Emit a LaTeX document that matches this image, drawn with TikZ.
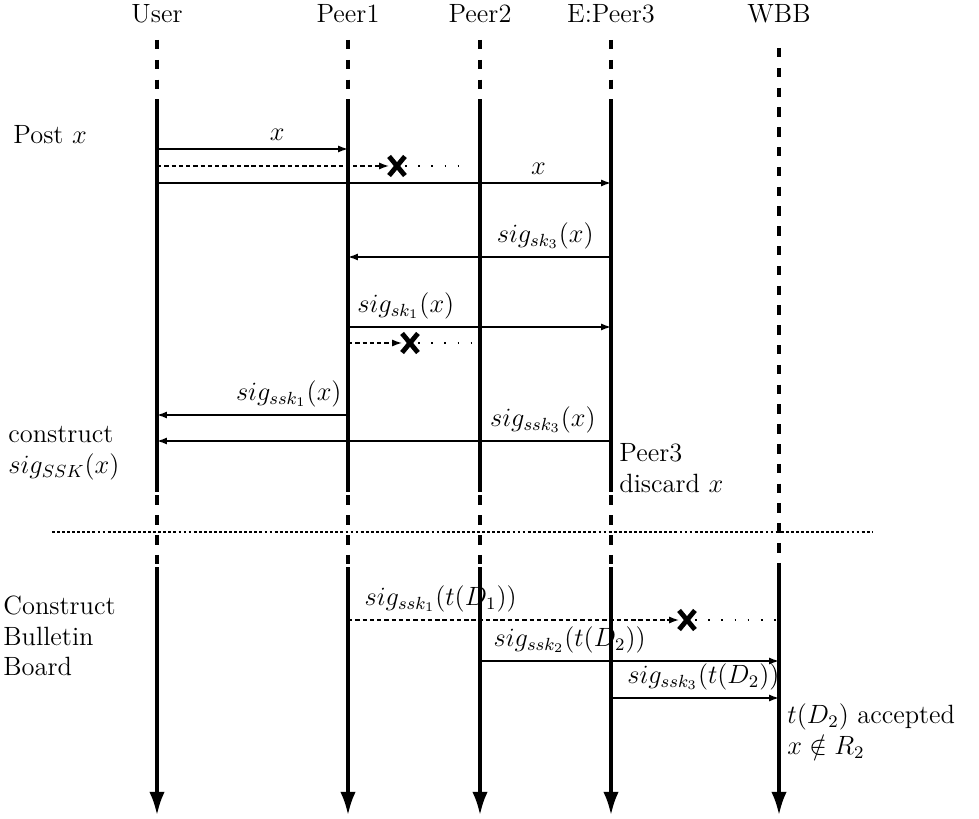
\documentclass[tikz,border=0pt]{standalone}
\usetikzlibrary{arrows.meta,shapes.misc}

\tikzset{
  lifeline/.style={line width=1.4pt},
  lifedash/.style={line width=1.4pt, dash pattern=on 4.3pt off 4.7pt},
  msg/.style={line width=0.7pt, -{Latex[length=4.5pt,width=3.2pt]}},
  lost/.style={msg, dash pattern=on 2pt off 1.3pt},
  gone/.style={line width=0.8pt, dash pattern=on 0.8pt off 5.2pt},
  lostmark/.style={cross out, draw, line width=2.2pt, minimum width=5pt, minimum height=6.5pt, inner sep=0pt},
  note/.style={anchor=west, align=left, inner sep=0pt}
}

\begin{document}
\begin{tikzpicture}[x=0.4545pt, y=-0.4545pt, font=\large]
    \useasboundingbox (0,0) rectangle (979,819);

    % Lifelines
    \foreach \n/\x/\t in {User/157/User, Peer1/348/Peer1, Peer2/480/Peer2, Peer3/611/E:Peer3} {
        \node (\n) at (\x,14) {\t};
        \draw[lifedash] (\x,40) -- (\x,567);
        \draw[lifeline] (\x,100) -- (\x,492);
        \draw[lifeline, -{Latex[length=10.5pt,width=7pt]}] (\x,567) -- (\x,815);
    }
    \node (WBB) at (779,14) {WBB};
    \draw[lifedash] (779,48) -- (779,567);
    \draw[lifeline, -{Latex[length=10.5pt,width=7pt]}] (779,567) -- (779,815);

    % Separator
    \draw[densely dotted, line width=1.3pt] (52,532) -- (872,532);

    % Side notes
    \node[note] (post) at (13,135) {Post $x$};
    \node[note] (construct) at (8,453) {construct\\$sig_{SSK}(x)$};
    \node[note] (discard) at (619,468) {Peer3\\discard $x$};
    \node[note] (board) at (3,636) {Construct\\Bulletin\\Board};
    \node[note] (accepted) at (787,731) {$t(D_2)$ accepted\\$x \notin R_2$};

    % Message rows
    \coordinate (m1) at (0,149);
    \coordinate (m3) at (0,183);
    \coordinate (m4) at (0,257);
    \coordinate (m5) at (0,327);
    \coordinate (m7) at (0,415);
    \coordinate (m8) at (0,441);
    \coordinate (m12) at (0,661);
    \coordinate (m13) at (0,698);

    % Posting x
    \draw[msg] (User |- m1) -- (Peer1 |- m1) node[pos=0.63, above] {$x$};
    \node[lostmark] (X1) at (397,166) {};
    \coordinate (X1end) at (468,166);
    \draw[lost] (User |- X1) -- (X1.west);
    \draw[gone] (X1.east) -- (X1end);
    \draw[msg] (User |- m3) -- (Peer3 |- m3) node[pos=0.84, above] {$x$};

    % Signatures
    \draw[msg] (Peer3 |- m4) -- (Peer1 |- m4) node[pos=0.25, above] {$sig_{sk_3}(x)$};
    \draw[msg] (Peer1 |- m5) -- (Peer3 |- m5) node[pos=0.22, above] {$sig_{sk_1}(x)$};
    \node[lostmark] (X2) at (410,343) {};
    \coordinate (X2end) at (472,343);
    \draw[lost] (Peer1 |- X2) -- (X2.west);
    \draw[gone] (X2.east) -- (X2end);
    \draw[msg] (Peer1 |- m7) -- (User |- m7) node[pos=0.31, above] {$sig_{ssk_1}(x)$};
    \draw[msg] (Peer3 |- m8) -- (User |- m8) node[pos=0.15, above] {$sig_{ssk_3}(x)$};

    % Bulletin board
    \node[lostmark] (X3) at (687,620) {};
    \coordinate (X3end) at (776,620);
    \draw[lost] (Peer1 |- X3) -- (X3.west) node[pos=0.28, above] {$sig_{ssk_1}(t(D_1))$};
    \draw[gone] (X3.east) -- (X3end);
    \draw[msg] (Peer2 |- m12) -- (WBB |- m12) node[pos=0.30, above] {$sig_{ssk_2}(t(D_2))$};
    \draw[msg] (Peer3 |- m13) -- (WBB |- m13) node[pos=0.55, above] {$sig_{ssk_3}(t(D_2))$};
\end{tikzpicture}
\end{document}
